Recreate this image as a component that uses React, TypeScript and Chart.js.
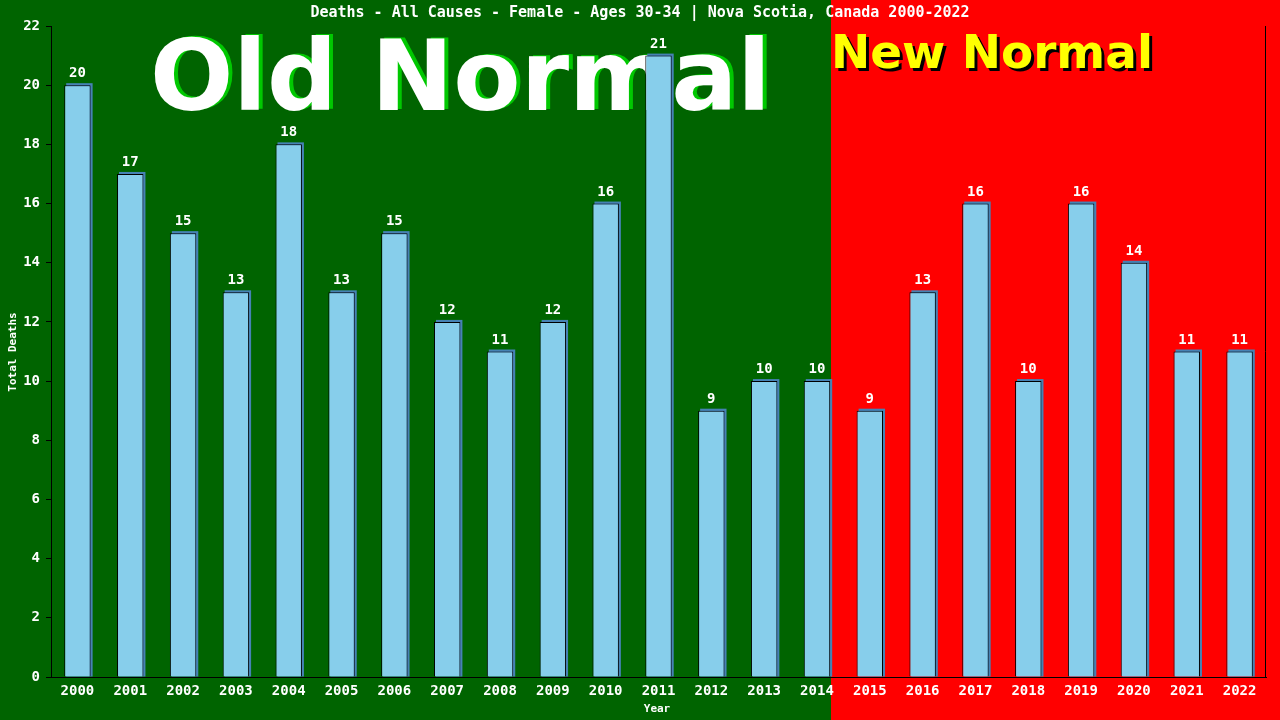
import React, { useEffect, useRef } from "react";
import { Chart, registerables } from "chart.js";

Chart.register(...registerables);

const years = ["2000","2001","2002","2003","2004","2005","2006","2007","2008","2009","2010","2011","2012","2013","2014","2015","2016","2017","2018","2019","2020","2021","2022"];
const deaths = [20,17,15,13,18,13,15,12,11,12,16,21,9,10,10,9,13,16,10,16,14,11,11];
const yTicks = [0,2,4,6,8,10,12,14,16,18,20,22];
const chartTitle = "Deaths - All Causes - Female - Ages 30-34 | Nova Scotia, Canada 2000-2022";
const oldLabel = "Old Normal";
const newLabel = "New Normal";
const lastOldIndex = 14;

const MONO = "'DejaVu Sans Mono', 'Liberation Mono', monospace";
const SANS = "'DejaVu Sans', Verdana, sans-serif";

const decor = {
  id: "decor",
  beforeDraw(chart: any) {
    const { ctx, width, height } = chart;
    const meta = chart.getDatasetMeta(0);
    const b = meta.data[lastOldIndex];
    const split = Math.round(b.x + b.width / 2 + 1);
    ctx.save();
    ctx.fillStyle = "#006400";
    ctx.fillRect(0, 0, split, height);
    ctx.fillStyle = "#ff0000";
    ctx.fillRect(split, 0, width - split, height);
    ctx.restore();
  },
  beforeDatasetsDraw(chart: any) {
    const { ctx } = chart;
    const meta = chart.getDatasetMeta(0);
    ctx.save();
    // Old Normal
    ctx.textAlign = "left";
    ctx.textBaseline = "alphabetic";
    ctx.font = `bold 100px ${SANS}`;
    let w = ctx.measureText(oldLabel).width;
    let size = 100 * 621 / w;
    ctx.font = `bold ${size}px ${SANS}`;
    ctx.fillStyle = "#00c800";
    ctx.fillText(oldLabel, 154, 109);
    ctx.fillStyle = "#ffffff";
    ctx.fillText(oldLabel, 150, 110);
    // New Normal
    ctx.font = `bold 50px ${SANS}`;
    w = ctx.measureText(newLabel).width;
    size = 50 * 322 / w;
    ctx.font = `bold ${size}px ${SANS}`;
    ctx.fillStyle = "#000000";
    ctx.fillText(newLabel, 834, 71);
    ctx.fillStyle = "#ffff00";
    ctx.fillText(newLabel, 831, 68);
    // bar shadows
    ctx.fillStyle = "#4682b4";
    meta.data.forEach((el: any) => {
      const left = el.x - el.width / 2;
      ctx.fillRect(left + 2, el.y - 2, el.width, el.base - el.y + 2);
    });
    ctx.restore();
  },
  afterDatasetsDraw(chart: any) {
    const { ctx, chartArea } = chart;
    const meta = chart.getDatasetMeta(0);
    ctx.save();
    // value labels
    ctx.fillStyle = "#ffffff";
    ctx.font = `bold 14px ${MONO}`;
    ctx.textAlign = "center";
    ctx.textBaseline = "alphabetic";
    meta.data.forEach((el: any, i: number) => {
      ctx.fillText(String(deaths[i]), el.x, el.y - 8);
    });
    // right border
    ctx.strokeStyle = "#000";
    ctx.lineWidth = 1;
    ctx.beginPath();
    ctx.moveTo(Math.round(chartArea.right) - 0.5, chartArea.top);
    ctx.lineTo(Math.round(chartArea.right) - 0.5, chartArea.bottom);
    ctx.stroke();
    // title
    ctx.font = `bold 15px ${MONO}`;
    ctx.textBaseline = "middle";
    ctx.fillText(chartTitle, 640, 13);
    // axis titles
    ctx.font = `bold 11px ${MONO}`;
    ctx.fillText("Year", 657, 709);
    ctx.save();
    ctx.translate(13, 352);
    ctx.rotate(-Math.PI / 2);
    ctx.fillText("Total Deaths", 0, 0);
    ctx.restore();
    ctx.restore();
  },
};

export default function App() {
  const ref = useRef<HTMLCanvasElement>(null);
  useEffect(() => {
    document.body.style.margin = "0";
    const chart = new Chart(ref.current!, {
      type: "bar",
      data: {
        labels: years,
        datasets: [
          {
            data: deaths,
            backgroundColor: "#87ceeb",
            borderColor: "#000000",
            borderWidth: 1,
            borderSkipped: "bottom",
            barPercentage: 0.5,
            categoryPercentage: 1,
          },
        ],
      },
      options: {
        responsive: false,
        animation: false,
        layout: { padding: { left: 0, right: 14, top: 26, bottom: 0 } },
        plugins: { legend: { display: false }, tooltip: { enabled: false }, title: { display: false } },
        scales: {
          x: {
            grid: { display: false },
            border: { display: true, color: "#000", width: 1 },
            ticks: { color: "#fff", font: { family: MONO, size: 14, weight: "bold" }, padding: -2, maxRotation: 0, autoSkip: false },
            afterFit: (s: any) => { s.height = 43; },
          },
          y: {
            min: 0,
            max: 22,
            afterBuildTicks: (s: any) => { s.ticks = yTicks.map((v) => ({ value: v })); },
            grid: { display: true, drawOnChartArea: false, drawTicks: true, tickLength: 5, color: "#000" },
            border: { display: true, color: "#000", width: 1 },
            ticks: { color: "#fff", font: { family: MONO, size: 14, weight: "bold" }, padding: 6 },
            afterFit: (s: any) => { s.width = 51; },
          },
        },
      },
      plugins: [decor],
    });
    return () => chart.destroy();
  }, []);
  return (
    <div style={{ position: "fixed", left: 0, top: 0, width: 1280, height: 720 }}>
      <canvas ref={ref} width={1280} height={720} />
    </div>
  );
}
